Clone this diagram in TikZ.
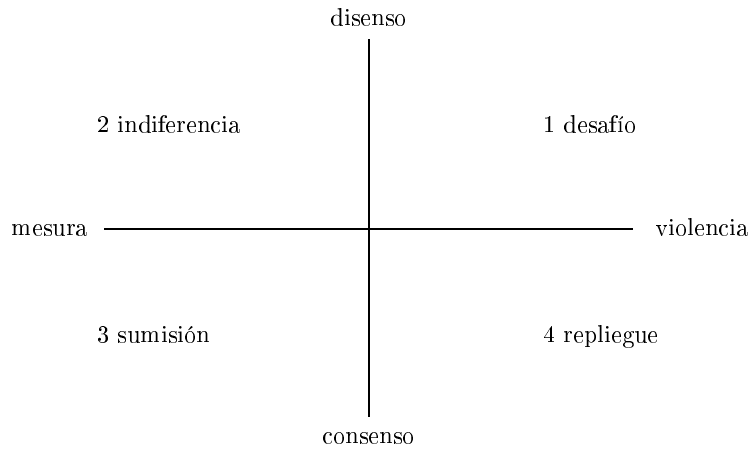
\documentclass[tikz,border=0pt]{standalone}
\usepackage[T1]{fontenc}
\begin{document}
\begin{tikzpicture}[x=0.41pt,y=-0.41pt,
  axis/.style={line width=0.8pt},
  lbl/.style={inner sep=0pt,anchor=base},
  qlbl/.style={inner sep=0pt,anchor=base west}]
\useasboundingbox (0,0) rectangle (751,448);
\coordinate (top) at (369,39);
\coordinate (bot) at (369,417);
\coordinate (lft) at (104,229);
\coordinate (rgt) at (633,229);
\draw[axis] (top) -- (bot);
\draw[axis] (lft) -- (rgt);
\node[lbl] (dis) at (369,25) {disenso};
\node[lbl] (con) at (369,443) {consenso};
\node[lbl] (mes) at (50,235) {mesura};
\node[lbl] (vio) at (702,235) {violencia};
\node[qlbl] (q2) at (97,132) {2 indiferencia};
\node[qlbl] (q1) at (543,132) {1 desafío};
\node[qlbl] (q3) at (97,342) {3 sumisión};
\node[qlbl] (q4) at (543,342) {4 repliegue};
\end{tikzpicture}
\end{document}
